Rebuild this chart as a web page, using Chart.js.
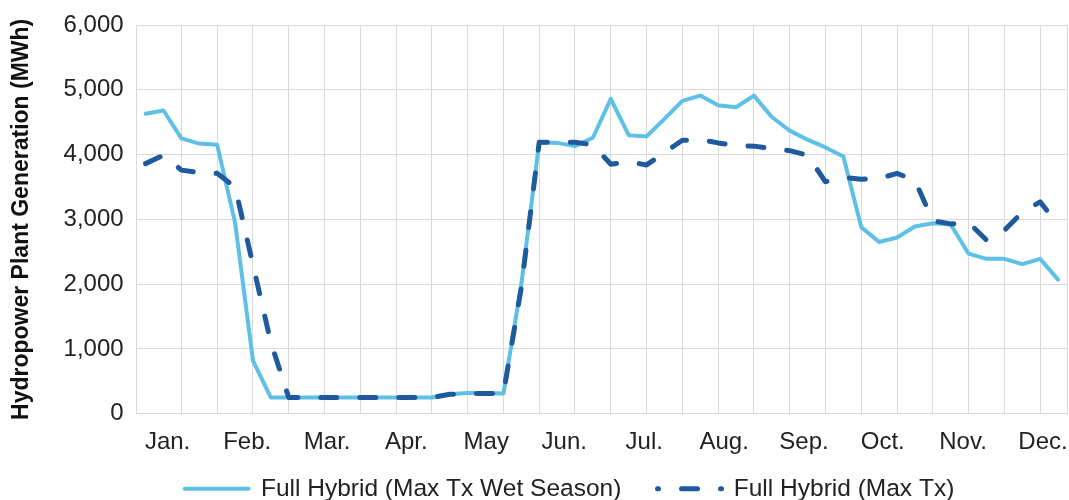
<!DOCTYPE html>
<html>
<head>
<meta charset="utf-8">
<script src="https://cdn.jsdelivr.net/npm/chart.js@4"></script>
<style>
  html, body { margin: 0; padding: 0; background: #fff; }
  #wrap { width: 1069px; height: 500px; }
</style>
</head>
<body>
<div id="wrap"><canvas id="hydroChart"></canvas></div>
<script>
// Weekly hydropower plant generation (MWh), one value per week of the year
const wetSeason = [4630, 4680, 4250, 4170, 4150, 2950, 820, 250, 250, 250, 250, 250, 250,
  250, 250, 250, 250, 300, 320, 320, 310, 2000, 4190, 4180, 4130, 4260, 4860, 4300, 4280,
  4550, 4830, 4910, 4760, 4730, 4910, 4580, 4370, 4230, 4110, 3970, 2880, 2650, 2720, 2890,
  2940, 2920, 2470, 2390, 2390, 2310, 2390, 2070];
const maxTx = [3860, 3990, 3760, 3720, 3710, 3500, 2300, 1100, 250, 250, 250, 250, 250,
  250, 250, 250, 250, 300, 310, 310, 310, 1950, 4190, 4190, 4190, 4150, 3850, 3890, 3840,
  4030, 4220, 4230, 4180, 4140, 4130, 4090, 4060, 3990, 3580, 3650, 3620, 3630, 3710, 3600,
  2980, 2930, 2950, 2680, 2830, 3110, 3270, 2920];

const seriesNames = ["Full Hybrid (Max Tx Wet Season)", "Full Hybrid (Max Tx)"];

// month labels and where they sit on the week axis
const monthLabels = ["Jan.", "Feb.", "Mar.", "Apr.", "May", "Jun.", "Jul.", "Aug.", "Sep.", "Oct.", "Nov.", "Dec."];
const monthPos = [1.23, 5.68, 10.15, 14.57, 19.04, 23.4, 27.87, 32.34, 36.8, 41.2, 45.69, 50.16];
// vertical gridlines (every second week) + right edge
const gridLines = [2, 4, 6, 8, 10, 12, 14, 16, 18, 20, 22, 24, 26, 28, 30, 32, 34, 36, 38, 40, 42, 44, 46, 48, 50, 51.5];

Chart.defaults.font.family = "'Liberation Sans', Arial, sans-serif";
Chart.defaults.color = "#222";

// nudge the legend a bit, like the original
const legendShift = {
    id: "legendShift",
    afterLayout(chart) {
        chart.legend.left += 32;
        chart.legend.right += 32;
        chart.legend.top -= 3;
        chart.legend.bottom -= 3;
    }
};

const ctx = document.getElementById("hydroChart").getContext("2d");
new Chart(ctx, {
    type: "line",
    data: {
        datasets: [{
            label: seriesNames[0],
            data: wetSeason.map((v, i) => ({ x: i, y: v })),
            borderColor: "#5ec0e6",
            backgroundColor: "#5ec0e6",
            borderWidth: 4,
            borderCapStyle: "round",
            borderJoinStyle: "round",
            pointRadius: 0,
            tension: 0,
            order: 1
        }, {
            label: seriesNames[1],
            data: maxTx.map((v, i) => ({ x: i, y: v })),
            borderColor: "#1f5a9e",
            backgroundColor: "#1f5a9e",
            borderWidth: 5,
            borderDash: [16, 23],
            borderCapStyle: "round",
            borderJoinStyle: "round",
            pointRadius: 0,
            tension: 0,
            order: 0
        }]
    },
    plugins: [legendShift],
    options: {
        responsive: true,
        maintainAspectRatio: false,
        animation: false,
        layout: { padding: { left: 8, right: 2, top: 25, bottom: -14 } },
        plugins: {
            tooltip: { enabled: false },
            legend: {
                position: "bottom",
                labels: {
                    usePointStyle: true,
                    pointStyle: "line",
                    pointStyleWidth: 64,
                    padding: 9,
                    font: { size: 24.5 },
                    color: "#222",
                    sort: (a, b) => a.datasetIndex - b.datasetIndex,
                    generateLabels: (chart) => {
                        const items = Chart.defaults.plugins.legend.labels.generateLabels(chart);
                        items.forEach(it => {
                            const ds = chart.data.datasets[it.datasetIndex];
                            it.lineDash = ds.borderDash || [];
                            it.lineDashOffset = 15;
                            it.lineCap = "round";
                            if (it.datasetIndex === 0) it.text += "\u00a0\u00a0\u00a0\u00a0";
                        });
                        return items;
                    }
                }
            }
        },
        scales: {
            x: {
                type: "linear",
                min: -0.5,
                max: 51.5,
                afterBuildTicks: (axis) => {
                    axis.ticks = gridLines.concat(monthPos).sort((a, b) => a - b).map(v => ({ value: v }));
                },
                afterFit: (axis) => {
                    axis.paddingRight = 0;
                },
                ticks: {
                    autoSkip: false,
                    maxRotation: 0,
                    padding: 14,
                    font: { size: 24 },
                    callback: (v) => {
                        const k = monthPos.indexOf(v);
                        return k >= 0 ? monthLabels[k] : "";
                    }
                },
                grid: {
                    drawTicks: false,
                    color: (c) => (c.tick && gridLines.includes(c.tick.value)) ? "#d9d9d9" : "rgba(0,0,0,0)"
                },
                border: { color: "#d9d9d9" }
            },
            y: {
                min: 0,
                max: 6000,
                afterFit: (axis) => {
                    axis.paddingTop = 0;
                },
                ticks: {
                    stepSize: 1000,
                    padding: 13,
                    font: { size: 24 },
                    callback: (v) => v.toLocaleString("en-US")
                },
                grid: { color: "#d9d9d9", drawTicks: false },
                border: { color: "#d9d9d9" },
                title: {
                    display: true,
                    text: "Hydropower Plant Generation (MWh)",
                    font: { size: 23, weight: "bold" },
                    color: "#111",
                    padding: { top: 0, bottom: 15 }
                }
            }
        }
    }
});
</script>
</body>
</html>
